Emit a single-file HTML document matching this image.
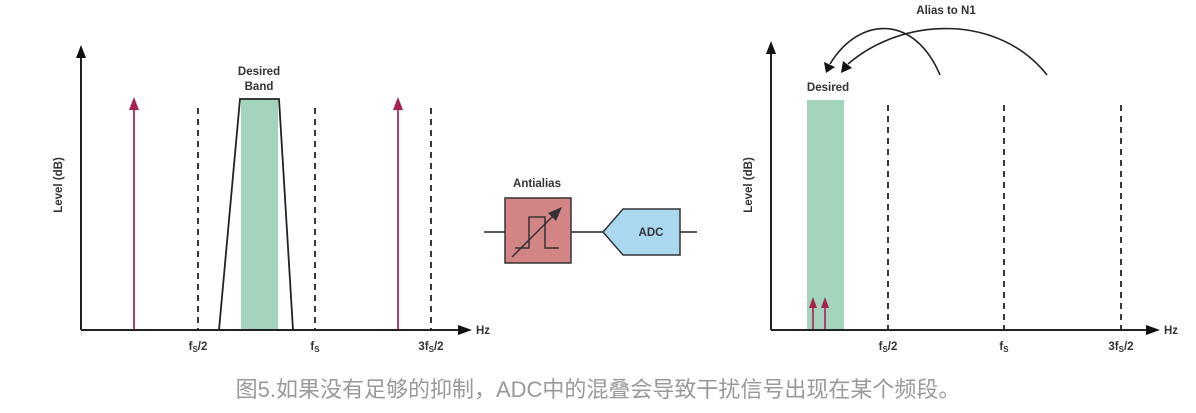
<!DOCTYPE html>
<html><head><meta charset="utf-8"><style>
body{margin:0;background:#fff;width:1196px;height:413px;overflow:hidden}
svg text{font-family:"Liberation Sans",sans-serif;font-weight:bold;font-size:11.5px;fill:#333}
.cap{position:absolute;left:0;top:376px;width:1196px;text-align:center;font-family:"Liberation Sans","Noto Sans CJK SC",sans-serif;font-size:22px;line-height:28px;color:#999}
</style></head><body>
<svg width="1196" height="413" style="position:absolute;left:0;top:0">
<rect x="241" y="99" width="37" height="231" fill="#a3d5bd"/>
<polyline points="219,330 240,99 279,99 293,330" fill="none" stroke="#222" stroke-width="1.8"/>
<g stroke="#222" stroke-width="1.8" stroke-dasharray="6,5">
<line x1="198" y1="108" x2="198" y2="330"/><line x1="315" y1="108" x2="315" y2="330"/><line x1="431" y1="108" x2="431" y2="330"/>
</g>
<g stroke="#b0406a" stroke-width="2"><line x1="134" y1="108" x2="134" y2="330"/><line x1="398" y1="108" x2="398" y2="330"/></g>
<path d="M129,110L134,97L139,110z" fill="#a8224e"/><path d="M393,110L398,97L403,110z" fill="#a8224e"/>
<line x1="81" y1="330" x2="81" y2="56" stroke="#222" stroke-width="2"/>
<path d="M76,58L81,45L86,58z" fill="#111"/>
<line x1="81" y1="330" x2="460" y2="330" stroke="#222" stroke-width="2"/>
<path d="M458,325L472,330L458,335z" fill="#111"/>
<text x="476" y="334">Hz</text>
<text x="259" y="75" text-anchor="middle">Desired</text>
<text x="259" y="90" text-anchor="middle">Band</text>
<text transform="translate(62,185) rotate(-90)" text-anchor="middle">Level (dB)</text>
<text x="198" y="350" text-anchor="middle">f<tspan font-size="8" dy="2">S</tspan><tspan dy="-2">/2</tspan></text>
<text x="315" y="350" text-anchor="middle">f<tspan font-size="8" dy="2">S</tspan></text>
<text x="431" y="350" text-anchor="middle">3f<tspan font-size="8" dy="2">S</tspan><tspan dy="-2">/2</tspan></text>
<text x="537" y="187" text-anchor="middle">Antialias</text>
<line x1="484" y1="232" x2="505" y2="232" stroke="#222" stroke-width="1.5"/>
<line x1="571" y1="232" x2="603" y2="232" stroke="#222" stroke-width="1.5"/>
<line x1="680" y1="232" x2="697" y2="232" stroke="#222" stroke-width="1.5"/>
<rect x="505" y="198" width="66" height="65" fill="#d38585" stroke="#333" stroke-width="1.5"/>
<polyline points="515,248 529,248 529,217 545,217 545,248 559,248" fill="none" stroke="#333" stroke-width="1.5"/>
<line x1="512" y1="257" x2="556" y2="213" stroke="#333" stroke-width="1.5"/>
<path d="M548,213L562,207L556,221z" fill="#333"/>
<path d="M603,232L623,209L680,209L680,255L623,255z" fill="#a9d8f0" stroke="#333" stroke-width="1.5"/>
<text x="651" y="236" text-anchor="middle">ADC</text>
<rect x="807" y="100" width="37" height="230" fill="#a3d5bd"/>
<g stroke="#222" stroke-width="1.8" stroke-dasharray="6,5">
<line x1="888" y1="105" x2="888" y2="330"/><line x1="1004" y1="105" x2="1004" y2="330"/><line x1="1121" y1="105" x2="1121" y2="330"/>
</g>
<g stroke="#b0406a" stroke-width="2"><line x1="813" y1="305" x2="813" y2="330"/><line x1="825" y1="305" x2="825" y2="330"/></g>
<path d="M809,308L813,297L817,308z" fill="#a8224e"/><path d="M821,308L825,297L829,308z" fill="#a8224e"/>
<line x1="771" y1="330" x2="771" y2="52" stroke="#222" stroke-width="2"/>
<path d="M766,54L771,41L776,54z" fill="#111"/>
<line x1="771" y1="330" x2="1148" y2="330" stroke="#222" stroke-width="2"/>
<path d="M1146,325L1160,330L1146,335z" fill="#111"/>
<text x="1164" y="334">Hz</text>
<text x="828" y="91" text-anchor="middle">Desired</text>
<text x="946" y="14" text-anchor="middle">Alias to N1</text>
<text transform="translate(752,185) rotate(-90)" text-anchor="middle">Level (dB)</text>
<path d="M940,75C915,15 860,15 830,64" fill="none" stroke="#222" stroke-width="1.6"/>
<path d="M824,62L826,73L835,67z" fill="#111"/>
<path d="M1047,75C1000,15 905,15 848,64" fill="none" stroke="#222" stroke-width="1.6"/>
<path d="M843,61L841,73L852,68z" fill="#111"/>
<text x="888" y="350" text-anchor="middle">f<tspan font-size="8" dy="2">S</tspan><tspan dy="-2">/2</tspan></text>
<text x="1004" y="350" text-anchor="middle">f<tspan font-size="8" dy="2">S</tspan></text>
<text x="1121" y="350" text-anchor="middle">3f<tspan font-size="8" dy="2">S</tspan><tspan dy="-2">/2</tspan></text>
</svg>
<div class="cap">图5.如果没有足够的抑制，ADC中的混叠会导致干扰信号出现在某个频段。</div>
</body></html>
